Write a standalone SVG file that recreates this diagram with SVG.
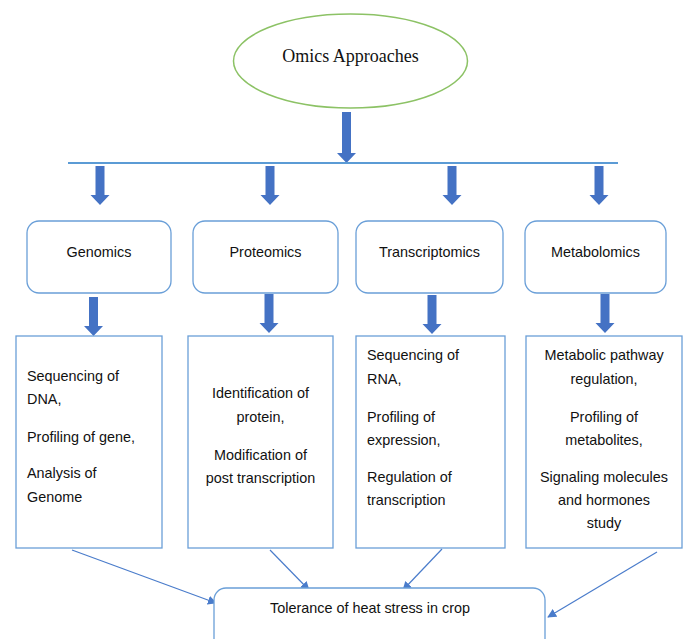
<svg xmlns="http://www.w3.org/2000/svg" width="686" height="639" viewBox="0 0 686 639">
<defs>
<style>
.box{fill:#fff;stroke:#6A9FD8;stroke-width:1.3}
.blk{fill:#4472C4}
.t{font-family:"Liberation Sans",Arial,sans-serif;font-size:14.4px;fill:#111}
.c{text-anchor:middle}
.con{stroke:#4A7CCB;stroke-width:1.2;fill:none;marker-end:url(#ah)}
</style>
<marker id="ah" viewBox="0 0 10 10" refX="9" refY="5" markerWidth="9" markerHeight="9" markerUnits="userSpaceOnUse" orient="auto">
<path d="M0,0 L10,5 L0,10 z" fill="#4A7CCB"/>
</marker>
<path id="barrow" d="M-4.5,0 H4.5 V29 H9.5 L0,39 L-9.5,29 H-4.5 z"/>
</defs>
<rect width="686" height="639" fill="#fff"/>

<g id="omics">
<ellipse cx="350.5" cy="61" rx="117" ry="47" fill="#fff" stroke="#8CC265" stroke-width="1.5"/>
<text x="350.5" y="62" text-anchor="middle" font-family="'Liberation Serif','Times New Roman',serif" font-size="18" fill="#111">Omics Approaches</text>
</g>

<g id="connectors">
<path class="blk" d="M342,112 H351 V153 H356 L346.5,163 L337,153 H342 z"/>
<line x1="68" y1="163" x2="618" y2="163" stroke="#5B9BD5" stroke-width="2"/>
<use href="#barrow" class="blk" x="100" y="166"/>
<use href="#barrow" class="blk" x="270" y="166"/>
<use href="#barrow" class="blk" x="452" y="166"/>
<use href="#barrow" class="blk" x="599" y="166"/>
<use href="#barrow" class="blk" x="93.5" y="297"/>
<use href="#barrow" class="blk" x="269" y="294"/>
<use href="#barrow" class="blk" x="432" y="295"/>
<use href="#barrow" class="blk" x="605" y="294"/>
<line class="con" x1="72" y1="550" x2="216" y2="603"/>
<line class="con" x1="270" y1="550" x2="309" y2="590"/>
<line class="con" x1="442" y1="549" x2="403" y2="590"/>
<line class="con" x1="657" y1="552" x2="548" y2="617"/>
</g>

<g id="genomics">
<rect class="box" x="27" y="221" width="144" height="72" rx="12"/>
<text class="t c" x="99" y="257">Genomics</text>
</g>
<g id="proteomics">
<rect class="box" x="193" y="221" width="145" height="72" rx="12"/>
<text class="t c" x="265.5" y="257">Proteomics</text>
</g>
<g id="transcriptomics">
<rect class="box" x="356" y="221" width="147" height="72" rx="12"/>
<text class="t c" x="429.5" y="257">Transcriptomics</text>
</g>
<g id="metabolomics">
<rect class="box" x="525" y="221" width="141" height="72" rx="12"/>
<text class="t c" x="595.5" y="257">Metabolomics</text>
</g>

<g id="genomics-detail">
<rect class="box" x="16" y="336" width="146" height="212"/>
<text class="t" x="27" y="381">Sequencing of</text>
<text class="t" x="27" y="404">DNA,</text>
<text class="t" x="27" y="442">Profiling of gene,</text>
<text class="t" x="27" y="478">Analysis of</text>
<text class="t" x="27" y="502">Genome</text>
</g>
<g id="proteomics-detail">
<rect class="box" x="188" y="336" width="145" height="212"/>
<text class="t c" x="260.5" y="398">Identification of</text>
<text class="t c" x="260.5" y="422">protein,</text>
<text class="t c" x="260.5" y="460">Modification of</text>
<text class="t c" x="260.5" y="483">post transcription</text>
</g>
<g id="transcriptomics-detail">
<rect class="box" x="356" y="336" width="149" height="212"/>
<text class="t" x="367" y="360">Sequencing of</text>
<text class="t" x="367" y="384">RNA,</text>
<text class="t" x="367" y="422">Profiling of</text>
<text class="t" x="367" y="445">expression,</text>
<text class="t" x="367" y="482">Regulation of</text>
<text class="t" x="367" y="505">transcription</text>
</g>
<g id="metabolomics-detail">
<rect class="box" x="526" y="336" width="156" height="212"/>
<text class="t c" x="604" y="360">Metabolic pathway</text>
<text class="t c" x="604" y="384">regulation,</text>
<text class="t c" x="604" y="422">Profiling of</text>
<text class="t c" x="604" y="445">metabolites,</text>
<text class="t c" x="604" y="482">Signaling molecules</text>
<text class="t c" x="604" y="505">and hormones</text>
<text class="t c" x="604" y="528">study</text>
</g>

<g id="tolerance">
<rect class="box" x="214" y="588" width="331" height="70" rx="12"/>
<text class="t c" x="370" y="613">Tolerance of heat stress in crop</text>
</g>
</svg>
